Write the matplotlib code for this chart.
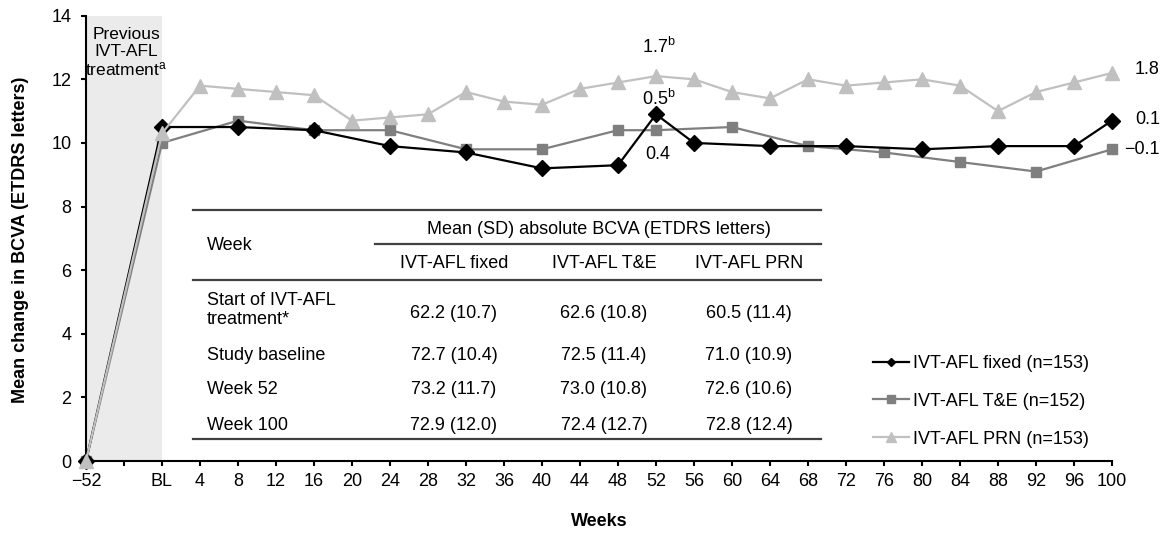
import matplotlib
matplotlib.use('Agg')
import matplotlib.pyplot as plt
from matplotlib.lines import Line2D

plt.rcParams['font.family'] = ['Liberation Sans', 'DejaVu Sans']
plt.rcParams['mathtext.fontset'] = 'custom'
plt.rcParams['mathtext.rm'] = 'Liberation Sans'
plt.rcParams['mathtext.it'] = 'Liberation Sans:italic'
plt.rcParams['mathtext.bf'] = 'Liberation Sans:bold'

# ---------------- data ----------------
x_labels = ['−52', '', 'BL', '4', '8', '12', '16', '20', '24', '28', '32', '36', '40',
            '44', '48', '52', '56', '60', '64', '68', '72', '76', '80', '84', '88',
            '92', '96', '100']

fixed_weeks = ['−52', 'BL', '8', '16', '24', '32', '40', '48', '52', '56', '64', '72',
               '80', '88', '96', '100']
fixed_vals = [0, 10.5, 10.5, 10.4, 9.9, 9.7, 9.2, 9.3, 10.9, 10.0, 9.9, 9.9, 9.8, 9.9,
              9.9, 10.7]

te_weeks = ['−52', 'BL', '8', '16', '24', '32', '40', '48', '52', '60', '68', '76', '84',
            '92', '100']
te_vals = [0, 10.0, 10.7, 10.4, 10.4, 9.8, 9.8, 10.4, 10.4, 10.5, 9.9, 9.7, 9.4, 9.1, 9.8]

prn_weeks = ['−52', 'BL', '4', '8', '12', '16', '20', '24', '28', '32', '36', '40', '44',
             '48', '52', '56', '60', '64', '68', '72', '76', '80', '84', '88', '92', '96',
             '100']
prn_vals = [0, 10.3, 11.8, 11.7, 11.6, 11.5, 10.7, 10.8, 10.9, 11.6, 11.3, 11.2, 11.7,
            11.9, 12.1, 12.0, 11.6, 11.4, 12.0, 11.8, 11.9, 12.0, 11.8, 11.0, 11.6, 11.9,
            12.2]

series_names = ['IVT-AFL fixed (n=153)', 'IVT-AFL T&E (n=152)', 'IVT-AFL PRN (n=153)']

table_header = 'Mean (SD) absolute BCVA (ETDRS letters)'
table_cols = ['IVT-AFL fixed', 'IVT-AFL T&E', 'IVT-AFL PRN']
table_rows = ['Start of IVT-AFL\ntreatment*', 'Study baseline', 'Week 52', 'Week 100']
table_fixed = ['62.2 (10.7)', '72.7 (10.4)', '73.2 (11.7)', '72.9 (12.0)']
table_te = ['62.6 (10.8)', '72.5 (11.4)', '73.0 (10.8)', '72.4 (12.7)']
table_prn = ['60.5 (11.4)', '71.0 (10.9)', '72.6 (10.6)', '72.8 (12.4)']

# ---------------- figure ----------------
W, H = 1169, 534
fig = plt.figure(figsize=(W / 100, H / 100), dpi=100)


def fx(px):
    return px / W


def fy(py):
    return 1 - py / H


FS = 13
ax = fig.add_axes([fx(86), fy(461), fx(1112) - fx(86), fy(15.7) - fy(461)])

pos = {lab: i for i, lab in enumerate(x_labels)}

# shaded "previous treatment" band
ax.axvspan(pos['−52'], pos['BL'], color='#ebebeb', zorder=0, lw=0)

C_FIX, C_TE, C_PRN = '#000000', '#7f7f7f', '#c0c0c0'

ax.plot([pos[w] for w in te_weeks], te_vals, color=C_TE, lw=1.6, marker='s', ms=7.5,
        mec=C_TE, mfc=C_TE, zorder=3, clip_on=False)
ax.plot([pos[w] for w in fixed_weeks], fixed_vals, color=C_FIX, lw=1.6, marker='D', ms=8,
        mec=C_FIX, mfc=C_FIX, zorder=4, clip_on=False)
ax.plot([pos[w] for w in prn_weeks], prn_vals, color=C_PRN, lw=1.6, marker='^', ms=10.5,
        mec=C_PRN, mfc=C_PRN, zorder=5, clip_on=False)

ax.set_xlim(0, len(x_labels) - 1)
ax.set_ylim(0, 14)
ax.set_xticks(range(len(x_labels)))
ax.set_xticklabels(x_labels)
ax.set_yticks(range(0, 15, 2))
for s in ['top', 'right']:
    ax.spines[s].set_visible(False)
for s in ['left', 'bottom']:
    ax.spines[s].set_linewidth(1.5)
    ax.spines[s].set_color('black')
    ax.spines[s].set_zorder(2)
ax.tick_params(axis='both', direction='out', length=3.6, width=1.5, labelsize=FS,
               colors='black')
ax.tick_params(axis='x', pad=5)
ax.tick_params(axis='y', pad=7)

# axis titles
fig.text(fx(21), fy(240), 'Mean change in BCVA (ETDRS letters)', rotation=90,
         ha='center', va='center', fontsize=FS, fontweight='bold')
fig.text(fx(599), fy(522), 'Weeks', ha='center', va='center', fontsize=FS,
         fontweight='bold')

# band label
fig.text(fx(126), fy(53), 'Previous\nIVT-AFL\ntreatment$^{\\mathrm{a}}$', ha='center',
         va='center', fontsize=FS - 0.5, linespacing=1.12)

# annotations
fig.text(fx(659), fy(46.7), '1.7$^{\\mathrm{b}}$', ha='center', va='center', fontsize=FS)
fig.text(fx(659), fy(99), '0.5$^{\\mathrm{b}}$', ha='center', va='center', fontsize=FS)
fig.text(fx(658), fy(155), '0.4', ha='center', va='center', fontsize=FS)
fig.text(fx(1160), fy(70), '1.8', ha='right', va='center', fontsize=FS)
fig.text(fx(1160), fy(119), '0.1', ha='right', va='center', fontsize=FS)
fig.text(fx(1160), fy(150), '−0.1', ha='right', va='center', fontsize=FS)

# legend
handles = [
    Line2D([], [], color=C_FIX, lw=1.6, marker='D', ms=4.5, mfc=C_FIX, mec=C_FIX),
    Line2D([], [], color=C_TE, lw=1.6, marker='s', ms=6, mfc=C_TE, mec=C_TE),
    Line2D([], [], color=C_PRN, lw=1.6, marker='^', ms=6.5, mfc=C_PRN, mec=C_PRN),
]
fig.legend(handles, series_names, loc='upper left', bbox_to_anchor=(fx(873), fy(355)),
           bbox_transform=fig.transFigure, frameon=False, borderpad=0,
           borderaxespad=0, handlelength=2.0, handletextpad=0.2, labelspacing=1.15,
           fontsize=FS)

# ---------------- inset table ----------------
LC = '#404040'


def hline(x0, x1, y):
    fig.add_artist(Line2D([fx(x0), fx(x1)], [fy(y), fy(y)], color=LC, lw=1.6,
                          transform=fig.transFigure))


hline(193, 821, 210)
hline(375, 821, 244)
hline(193, 821, 280)
hline(193, 821, 439)

col_x = [454, 604, 749]
row_y = [310, 355, 390, 425]
fig.text(fx(599), fy(229), table_header, ha='center', va='center', fontsize=FS)
fig.text(fx(207), fy(245), 'Week', ha='left', va='center', fontsize=FS)
for cx, name in zip(col_x, table_cols):
    fig.text(fx(cx), fy(263), name, ha='center', va='center', fontsize=FS)
for i, (lab, a, b, c) in enumerate(zip(table_rows, table_fixed, table_te, table_prn)):
    fig.text(fx(207), fy(row_y[i]), lab, ha='left', va='center', fontsize=FS,
             linespacing=1.1)
    vy = row_y[i] + (3 if i == 0 else 0)
    for cx, val in zip(col_x, [a, b, c]):
        fig.text(fx(cx), fy(vy), val, ha='center', va='center', fontsize=FS)

fig.savefig('out.png', dpi=100)
